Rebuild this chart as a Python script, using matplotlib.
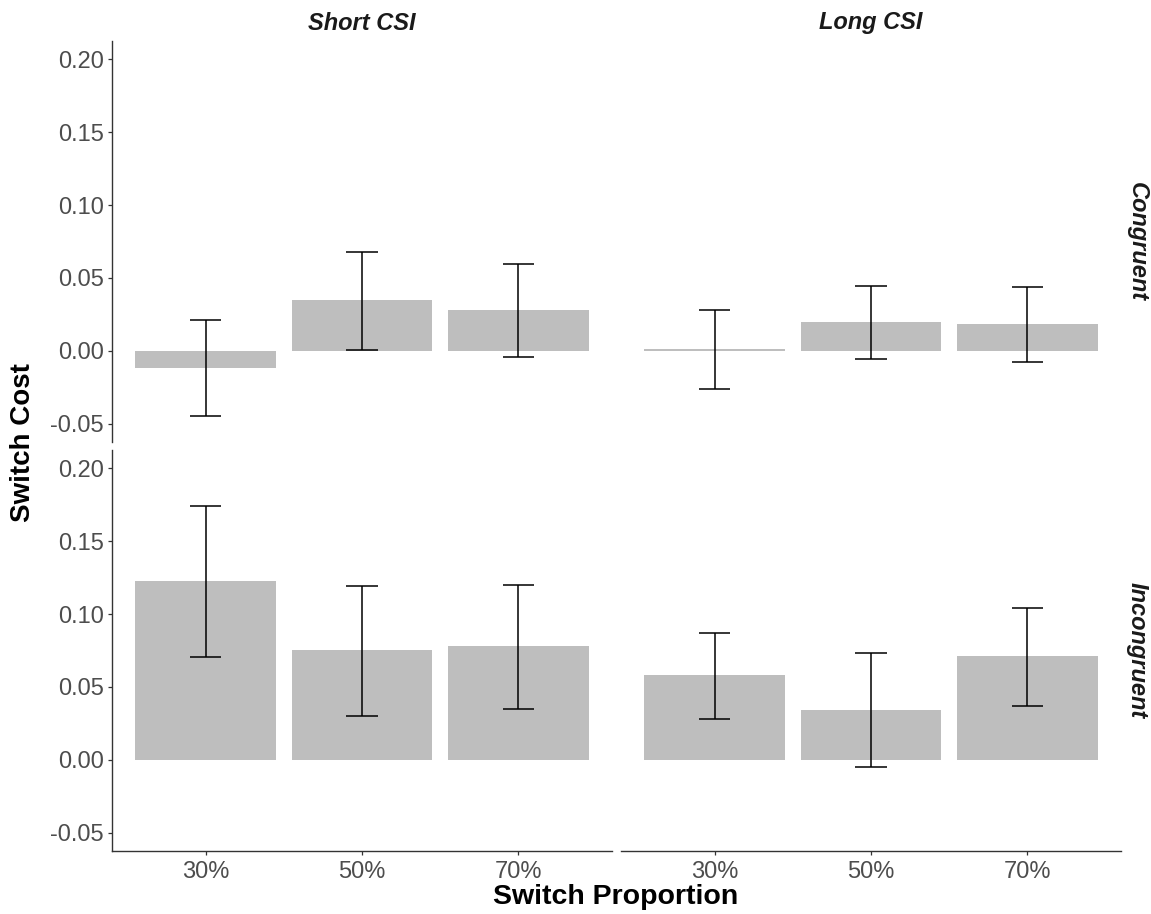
import matplotlib
matplotlib.use("Agg")
import matplotlib.pyplot as plt
import numpy as np

plt.rcParams['font.family'] = ['Liberation Sans', 'DejaVu Sans']

# switch proportion levels and facet labels
proportions = ['30%', '50%', '70%']
csi_labels = ['Short CSI', 'Long CSI']
congruency_labels = ['Congruent', 'Incongruent']

# mean switch cost per cell, with lower / upper error bar ends
short_cong = [-0.0117, 0.0346, 0.0282]
short_cong_lo = [-0.0444, 0.0009, -0.0041]
short_cong_hi = [0.0215, 0.0678, 0.0598]

long_cong = [0.0015, 0.0199, 0.0183]
long_cong_lo = [-0.0259, -0.0057, -0.0073]
long_cong_hi = [0.0277, 0.0444, 0.0435]

short_incong = [0.1229, 0.0753, 0.0780]
short_incong_lo = [0.0705, 0.0301, 0.0351]
short_incong_hi = [0.1742, 0.1193, 0.1197]

long_incong = [0.0579, 0.0344, 0.0711]
long_incong_lo = [0.0278, -0.0046, 0.0372]
long_incong_hi = [0.0871, 0.0730, 0.1044]

panels = [
    [(short_cong, short_cong_lo, short_cong_hi), (long_cong, long_cong_lo, long_cong_hi)],
    [(short_incong, short_incong_lo, short_incong_hi), (long_incong, long_incong_lo, long_incong_hi)],
]

W, H = 1151, 914
fig = plt.figure(figsize=(W / 100, H / 100), dpi=100)

col_x = [112, 621]   # left edge in px
col_w = 500
row_y = [41, 450]    # top edge in px
row_h = 401

axis_col = '#333333'
tick_col = '#4D4D4D'
x = np.arange(1, len(proportions) + 1)

for r in range(2):
    for c in range(2):
        ax = fig.add_axes([col_x[c] / W, 1 - (row_y[r] + row_h) / H, col_w / W, row_h / H])
        vals, lo, hi = panels[r][c]
        ax.bar(x, vals, width=0.9, color='#BEBEBE', zorder=1)
        ax.vlines(x, lo, hi, color='black', lw=1.1, zorder=2)
        ax.hlines(lo, x - 0.1, x + 0.1, color='black', lw=1.1, zorder=2)
        ax.hlines(hi, x - 0.1, x + 0.1, color='black', lw=1.1, zorder=2)

        ax.set_xlim(0.4, 3.6)
        ax.set_ylim(-0.0625, 0.2125)
        ax.set_yticks([-0.05, 0, 0.05, 0.10, 0.15, 0.20])
        ax.set_yticklabels(['-0.05', '0.00', '0.05', '0.10', '0.15', '0.20'])
        ax.set_xticks(x)
        ax.set_xticklabels(proportions)

        for s in ['top', 'right']:
            ax.spines[s].set_visible(False)
        ax.spines['left'].set_visible(c == 0)
        ax.spines['bottom'].set_visible(r == 1)
        for s in ['left', 'bottom']:
            ax.spines[s].set_color(axis_col)
            ax.spines[s].set_linewidth(1.0)

        ax.tick_params(axis='y', length=3, width=0.9, color=axis_col,
                       labelcolor=tick_col, labelsize=17, pad=3,
                       left=(c == 0), labelleft=(c == 0))
        ax.tick_params(axis='x', length=3, width=0.9, color=axis_col,
                       labelcolor=tick_col, labelsize=17, pad=4,
                       bottom=(r == 1), labelbottom=(r == 1))

        if r == 0:
            ax.text(0.5, 1 + 18 / row_h, csi_labels[c], transform=ax.transAxes,
                    ha='center', va='center', fontsize=17, fontweight='bold',
                    fontstyle='italic', color='#1A1A1A')
        if c == 1:
            ax.text(1 + 16 / col_w, 0.5, congruency_labels[r], transform=ax.transAxes,
                    ha='center', va='center', rotation=-90, fontsize=17,
                    fontweight='bold', fontstyle='italic', color='#1A1A1A')

fig.text(23 / W, 1 - 443 / H, 'Switch Cost', rotation=90, ha='center', va='center',
         fontsize=20, fontweight='bold', color='black')
fig.text(616 / W, 1 - 904 / H, 'Switch Proportion', ha='center', va='baseline',
         fontsize=20.5, fontweight='bold', color='black')

fig.savefig('out.png', dpi=100, facecolor='white')
